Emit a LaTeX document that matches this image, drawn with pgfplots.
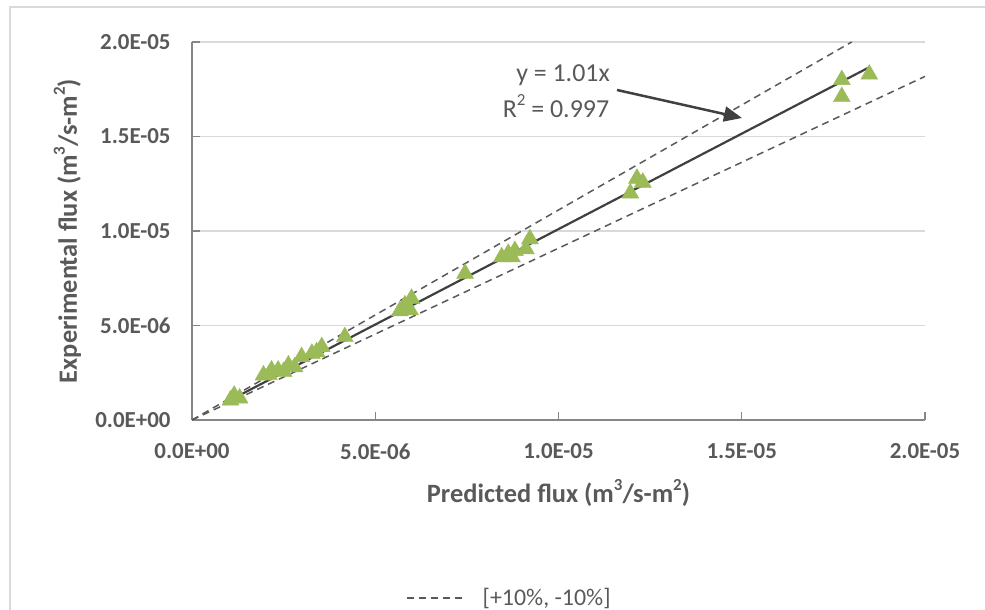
\documentclass[border=0pt]{standalone}
\usepackage{pgfplots}
\pgfplotsset{compat=1.18}
\usepackage{fontspec}
\setmainfont{Carlito}
\usetikzlibrary{arrows.meta}
\definecolor{ptgreen}{HTML}{9BBB59}
\definecolor{txtgray}{HTML}{595959}
\definecolor{gridgray}{HTML}{D9D9D9}
\definecolor{axgray}{HTML}{868686}
\definecolor{linegray}{HTML}{404040}
\newcommand{\sups}[1]{\raisebox{0.45em}{\fontsize{17}{17}\selectfont #1}}
\begin{document}
\begin{tikzpicture}[x=1bp,y=1bp]
\path[use as bounding box] (0bp,0bp) rectangle (985bp,610bp);
\draw[gridgray, line width=1.5bp] (10bp,-20bp) rectangle (1000bp,603bp);
\begin{axis}[
  at={(192bp,190bp)}, anchor=south west,
  width=733bp, height=378bp, scale only axis,
  xmin=0, xmax=2e-5, ymin=0, ymax=2e-5,
  scaled ticks=false,
  axis x line*=bottom, axis y line*=left,
  axis line style={axgray, line width=1.2bp},
  xtick={0,5e-6,1e-5,1.5e-5,2e-5},
  ytick={0,5e-6,1e-5,1.5e-5,2e-5},
  xticklabels={0.0E+00,5.0E-06,1.0E-05,1.5E-05,2.0E-05},
  yticklabels={0.0E+00,5.0E-06,1.0E-05,1.5E-05,2.0E-05},
  tick align=inside, major tick length=8bp,
  tick style={axgray, line width=1.2bp},
  ymajorgrids, grid style={gridgray, line width=1.2bp},
  ticklabel style={font=\bfseries\fontsize{23}{27}\selectfont, text=txtgray},
  xticklabel style={yshift=-20bp},
  yticklabel style={xshift=-18bp},
  xlabel={Predicted flux (m\sups{3}/s-m\sups{2})},
  ylabel={Experimental flux (m\sups{3}/s-m\sups{2})},
  label style={font=\bfseries\fontsize{26.5}{30}\selectfont, text=txtgray},
  xlabel style={at={(axis description cs:0.5,-0.193)}, anchor=center},
  ylabel style={at={(axis description cs:-0.170,0.5)}, anchor=center},
  clip=false,
  legend style={at={(axis description cs:0.433,-0.471)}, anchor=center, draw=none, fill=none,
    font=\fontsize{24}{28}\selectfont, text=txtgray,
    /tikz/every odd column/.append style={column sep=14bp}},
  legend cell align=left,
  legend image code/.code={\draw[#1] (0bp,0bp) -- (59bp,0bp);},
]
\addplot[only marks, mark=triangle*, mark size=9.8bp, mark options={fill=ptgreen, draw=ptgreen}, forget plot] coordinates {
(1.05e-6,1.05e-6) (1.15e-6,1.30e-6) (1.30e-6,1.15e-6)
(1.95e-6,2.37e-6) (2.10e-6,2.40e-6) (2.17e-6,2.63e-6) (2.35e-6,2.63e-6)
(2.50e-6,2.55e-6) (2.63e-6,2.90e-6) (2.80e-6,2.80e-6) (2.99e-6,3.34e-6)
(3.27e-6,3.52e-6) (3.40e-6,3.60e-6) (3.54e-6,3.87e-6) (4.17e-6,4.40e-6)
(5.67e-6,5.77e-6) (5.81e-6,6.08e-6) (5.95e-6,5.82e-6) (5.99e-6,6.43e-6)
(7.45e-6,7.75e-6)
(8.45e-6,8.62e-6) (8.63e-6,8.81e-6) (8.73e-6,8.62e-6) (8.81e-6,8.96e-6)
(9.11e-6,9.05e-6) (9.22e-6,9.58e-6)
(1.196e-5,1.200e-5) (1.214e-5,1.278e-5) (1.230e-5,1.257e-5)
(1.773e-5,1.800e-5) (1.773e-5,1.710e-5) (1.848e-5,1.829e-5)
};
\addplot[linegray, line width=2.2bp, forget plot] coordinates {(1.0e-6,1.01e-6) (1.85e-5,1.8685e-5)};
\addplot[txtgray, line width=1.5bp, dash pattern=on 7bp off 5bp] coordinates {(0,0) (1.8e-5,2.0e-5)};
\addlegendentry{[+10\%, -10\%]}
\addplot[txtgray, line width=1.5bp, dash pattern=on 7bp off 5bp, forget plot] coordinates {(0,0) (2.0e-5,1.818e-5)};
\end{axis}
\draw[linegray, line width=2.5bp, -{Triangle[length=18bp,width=15bp]}] (617bp,520bp) -- (742bp,492bp);
\node[text=txtgray, font=\fontsize{26}{30}\selectfont] at (563bp,535bp) {y = 1.01x};
\node[text=txtgray, font=\fontsize{26}{30}\selectfont] at (556bp,504bp) {R\sups{2} = 0.997};
\end{tikzpicture}
\end{document}
